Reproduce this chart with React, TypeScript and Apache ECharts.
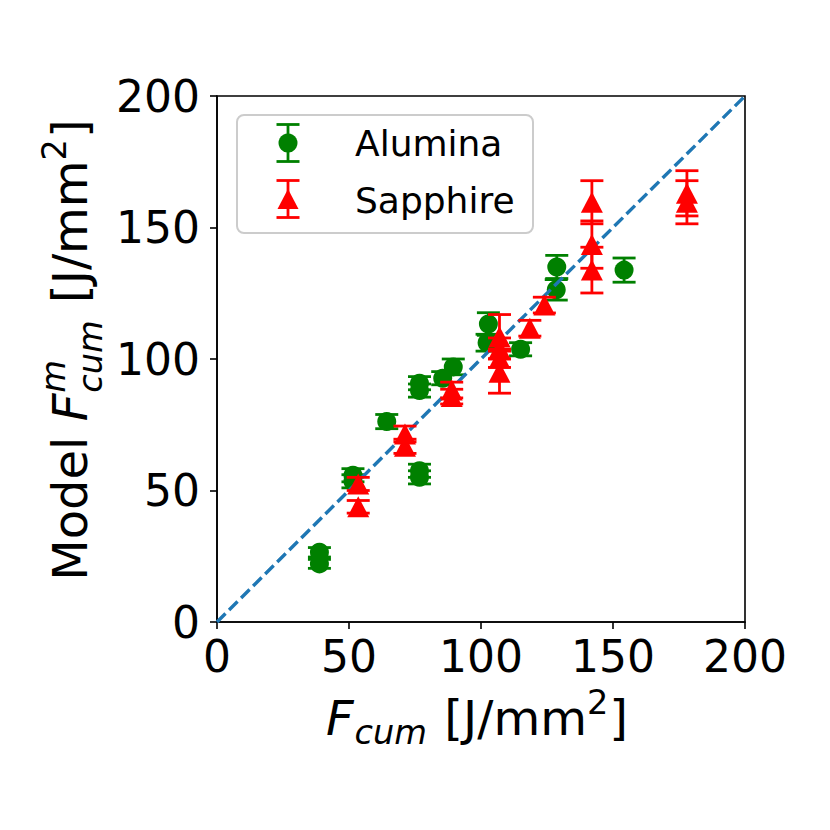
import React, { useEffect, useRef } from 'react';
import * as echarts from 'echarts';

// ---- data ----
const aluminaX = [38.8, 38.8, 51.5, 51.5, 64.3, 76.7, 76.7, 76.7, 76.7, 85.5, 89.5, 102.8, 102.3, 115.0, 128.5, 128.7, 154.2];
const aluminaY = [26.5, 22.1, 55.8, 53.5, 76.2, 57.5, 55.0, 90.8, 88.0, 92.7, 97.0, 113.3, 106.2, 103.7, 126.3, 135.0, 133.8];
const aluminaErr = [1.8, 1.7, 2.5, 2.5, 2.7, 2.5, 2.5, 2.5, 2.5, 2.5, 3.0, 4.3, 3.2, 2.5, 3.9, 4.4, 4.6];

const sapphireX = [53.5, 53.5, 71.2, 71.2, 88.9, 88.9, 107.0, 107.0, 107.0, 107.0, 118.5, 124.0, 142.0, 142.0, 142.0, 178.0, 178.0];
const sapphireY = [52.5, 43.8, 71.5, 66.8, 88.2, 85.7, 108.5, 104.0, 100.3, 95.0, 111.7, 120.5, 159.6, 143.5, 133.8, 163.0, 159.6];
const sapphireErr = [2.5, 2.4, 3.0, 2.7, 3.0, 2.8, 8.4, 4.0, 3.5, 8.0, 3.0, 3.0, 8.2, 9.0, 8.7, 8.6, 8.2];

const diagonal = [[0, 0], [200, 200]];
const axisMin = 0;
const axisMax = 200;
const axisStep = 50;
const legendNames = ['Alumina', 'Sapphire'];

const GREEN = '#008000';
const RED = '#ff0000';
const BLUE = '#1f77b4';
const FONT = '"DejaVu Sans", sans-serif';

export default function App() {
  const ref = useRef<HTMLDivElement>(null);

  useEffect(() => {
    if (!ref.current) return;
    const chart = echarts.init(ref.current, null, { renderer: 'svg' });

    const cv = document.createElement('canvas');
    const ctx = cv.getContext('2d')!;
    const measure = (t: string, size: number, italic = false) => {
      ctx.font = `${italic ? 'italic ' : ''}${size}px "DejaVu Sans"`;
      return ctx.measureText(t).width;
    };

    const TS = 48; // axis title size
    const SS = TS * 0.7; // script size

    type Piece = { t: string; size: number; italic: boolean; x: number; shift: number };
    const buildTitle = (withSup: boolean) => {
      const pieces: Piece[] = [];
      let off = 0;
      if (withSup) {
        pieces.push({ t: 'Model ', size: TS, italic: false, x: off, shift: 0 });
        off += measure('Model ', TS);
      }
      pieces.push({ t: 'F', size: TS, italic: true, x: off, shift: 0 });
      off += measure('F', TS, true) + 1;
      if (withSup) {
        pieces.push({ t: 'm', size: SS, italic: true, x: off, shift: -0.46 * TS });
        pieces.push({ t: 'cum', size: SS, italic: true, x: off, shift: 0.31 * TS });
        off += Math.max(measure('m', SS, true), measure('cum', SS, true)) + 2;
      } else {
        pieces.push({ t: 'cum', size: SS, italic: true, x: off, shift: 0.19 * TS });
        off += measure('cum', SS, true) + 2;
      }
      pieces.push({ t: ' [J/mm', size: TS, italic: false, x: off, shift: 0 });
      off += measure(' [J/mm', TS);
      pieces.push({ t: '2', size: SS, italic: false, x: off, shift: -0.43 * TS });
      off += measure('2', SS) + 1;
      pieces.push({ t: ']', size: TS, italic: false, x: off, shift: 0 });
      off += measure(']', TS);
      return { pieces, total: off };
    };

    const toTexts = (pieces: Piece[]) =>
      pieces.map((p) => ({
        type: 'text',
        x: p.x,
        y: p.shift - 0.346 * p.size,
        style: {
          text: p.t,
          fontSize: p.size,
          fontFamily: FONT,
          fontStyle: p.italic ? 'italic' : 'normal',
          fill: '#000',
          textAlign: 'left',
          textVerticalAlign: 'middle',
          verticalAlign: 'middle',
        },
      }));

    const xt = buildTitle(false);
    const yt = buildTitle(true);

    const errRender = (color: string) => (params: any, api: any) => {
      const x = api.value(0);
      const y = api.value(1);
      const e = api.value(2);
      const t = api.coord([x, y + e]);
      const b = api.coord([x, y - e]);
      const hw = 11.5;
      const st = { stroke: color, lineWidth: 2.8 };
      return {
        type: 'group',
        children: [
          { type: 'line', shape: { x1: t[0], y1: t[1], x2: b[0], y2: b[1] }, style: st },
          { type: 'line', shape: { x1: t[0] - hw, y1: t[1], x2: t[0] + hw, y2: t[1] }, style: st },
          { type: 'line', shape: { x1: b[0] - hw, y1: b[1], x2: b[0] + hw, y2: b[1] }, style: st },
        ],
      };
    };

    const alData = aluminaX.map((x, i) => [x, aluminaY[i], aluminaErr[i]]);
    const saData = sapphireX.map((x, i) => [x, sapphireY[i], sapphireErr[i]]);

    const axisCommon = {
      type: 'value',
      min: axisMin,
      max: axisMax,
      interval: axisStep,
      splitLine: { show: false },
      axisLine: { show: true, lineStyle: { color: '#000', width: 1.6 } },
      axisTick: { show: true, inside: false, length: 7, lineStyle: { color: '#000', width: 1.6 } },
    };

    const lgX = 288;
    const legendGlyph = (cy: number, color: string, marker: any) => [
      { type: 'line', shape: { x1: lgX, y1: cy - 18.5, x2: lgX, y2: cy + 18.5 }, style: { stroke: color, lineWidth: 2.8 } },
      { type: 'line', shape: { x1: lgX - 11.5, y1: cy - 18.5, x2: lgX + 11.5, y2: cy - 18.5 }, style: { stroke: color, lineWidth: 2.8 } },
      { type: 'line', shape: { x1: lgX - 11.5, y1: cy + 18.5, x2: lgX + 11.5, y2: cy + 18.5 }, style: { stroke: color, lineWidth: 2.8 } },
      marker,
    ];

    chart.setOption({
      animation: false,
      backgroundColor: '#fff',
      grid: {
        left: 217,
        top: 96,
        width: 528,
        height: 526,
        show: true,
        borderColor: '#000',
        borderWidth: 1.6,
        backgroundColor: 'transparent',
      },
      xAxis: {
        ...axisCommon,
        axisLabel: { fontSize: 44, fontFamily: FONT, color: '#000', margin: 12 },
      },
      yAxis: {
        ...axisCommon,
        axisLabel: { fontSize: 44, fontFamily: FONT, color: '#000', margin: 17 },
      },
      series: [
        {
          type: 'custom',
          name: legendNames[0] + ' err',
          renderItem: errRender(GREEN),
          data: alData,
          encode: { x: 0, y: 1 },
          z: 2,
          silent: true,
        },
        {
          type: 'scatter',
          name: legendNames[0],
          data: alData.map((d) => [d[0], d[1]]),
          symbol: 'circle',
          symbolSize: 19,
          itemStyle: { color: GREEN, opacity: 1 },
          z: 3,
        },
        {
          type: 'line',
          data: diagonal,
          symbol: 'none',
          lineStyle: { color: BLUE, width: 3.4, type: [12, 5] },
          z: 4,
          silent: true,
        },
        {
          type: 'custom',
          name: legendNames[1] + ' err',
          renderItem: errRender(RED),
          data: saData,
          encode: { x: 0, y: 1 },
          z: 5,
          silent: true,
        },
        {
          type: 'scatter',
          name: legendNames[1],
          data: saData.map((d) => [d[0], d[1]]),
          symbol: 'triangle',
          symbolSize: [22, 21],
          itemStyle: { color: RED, opacity: 1 },
          z: 6,
        },
      ],
      graphic: [
        {
          type: 'group',
          x: 477 - xt.total / 2,
          y: 735,
          children: toTexts(xt.pieces),
        },
        {
          type: 'group',
          x: 87,
          y: 350 + yt.total / 2,
          rotation: Math.PI / 2,
          children: toTexts(yt.pieces),
        },
        {
          type: 'group',
          z: 100,
          children: [
            {
              type: 'rect',
              shape: { x: 237, y: 115, width: 296, height: 118, r: 7 },
              style: { fill: 'rgba(255,255,255,0.8)', stroke: '#cccccc', lineWidth: 2 },
            },
            ...legendGlyph(143, GREEN, {
              type: 'circle',
              shape: { cx: lgX, cy: 143, r: 9.5 },
              style: { fill: GREEN },
            }),
            ...legendGlyph(199, RED, {
              type: 'polygon',
              shape: { points: [[lgX, 189], [lgX - 10.5, 209], [lgX + 10.5, 209]] },
              style: { fill: RED },
            }),
            {
              type: 'text',
              x: 355,
              y: 143,
              style: { text: legendNames[0], fontSize: 36, fontFamily: FONT, fill: '#000', textAlign: 'left', textVerticalAlign: 'middle', verticalAlign: 'middle' },
            },
            {
              type: 'text',
              x: 355,
              y: 200,
              style: { text: legendNames[1], fontSize: 36, fontFamily: FONT, fill: '#000', textAlign: 'left', textVerticalAlign: 'middle', verticalAlign: 'middle' },
            },
          ],
        },
      ],
    });

    return () => chart.dispose();
  }, []);

  return <div ref={ref} style={{ position: 'fixed', left: 0, top: 0, width: 830, height: 830 }} />;
}
